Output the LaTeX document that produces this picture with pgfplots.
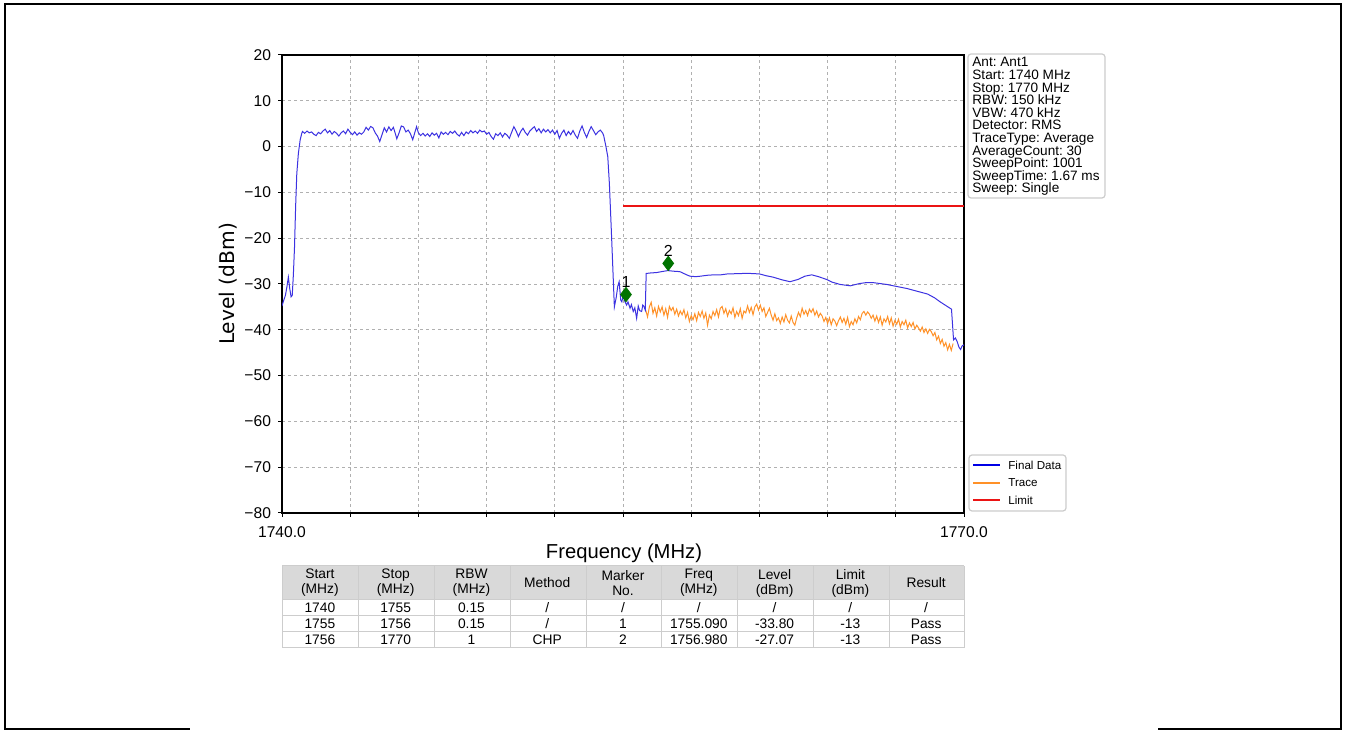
\documentclass[border=0pt]{standalone}
\usepackage{fontspec}
\setmainfont{Liberation Sans}
\newfontfamily\dejavu{DejaVu Sans}
\usepackage{pgfplots}
\pgfplotsset{compat=1.18}
\definecolor{fdblue}{RGB}{60,50,225}
\definecolor{trorange}{RGB}{255,145,40}
\definecolor{limred}{RGB}{235,20,20}
\definecolor{mkgreen}{RGB}{0,115,0}
\definecolor{gridgray}{RGB}{176,176,176}
\definecolor{boxgray}{RGB}{204,204,204}
\definecolor{hdrgray}{RGB}{217,217,217}
\definecolor{cellline}{RGB}{205,205,205}
\newcommand{\tabfont}{\fontsize{6.9pt}{7.5pt}\selectfont}
\newcommand{\tcell}[3]{\node[font=\tabfont, align=center, inner sep=0pt] at ({282+75.78*(#1-0.5)},#2) {#3};}
\frenchspacing
\begin{document}
\frenchspacing
\begin{tikzpicture}
\useasboundingbox (0,0) rectangle (672.5pt,-365.5pt);
\begin{axis}[
  at={(141pt,-256.5pt)}, anchor=south west,
  width=341pt, height=229pt, scale only axis,
  xmin=1740, xmax=1770, ymin=-80, ymax=20,
  xtick={1740,1743,1746,1749,1752,1755,1758,1761,1764,1767,1770},
  xticklabels={1740.0,,,,,,,,,,1770.0},
  ytick={-80,-70,-60,-50,-40,-30,-20,-10,0,10,20},
  yticklabels={−80,−70,−60,−50,−40,−30,−20,−10,0,10,20},
  tick pos=left, tick align=outside, major tick length=2pt,
  tick style={black, line width=0.5pt},
  ticklabel style={font=\fontsize{7.8pt}{8pt}\selectfont},
  xticklabel style={yshift=-1.2pt},
  grid=major,
  major grid style={gridgray, line width=0.45pt, dash pattern=on 1.6pt off 1.4pt},
  axis line style={black, line width=0.7pt},
  clip=true,
]
\addplot[trorange, line width=0.5pt, forget plot] coordinates {
(1756.00,-35.7) (1756.08,-37.2) (1756.16,-35.0) (1756.24,-34.0) (1756.32,-36.4) (1756.40,-35.2) (1756.48,-37.0) (1756.56,-34.9)
(1756.64,-36.1) (1756.72,-35.0) (1756.80,-36.8) (1756.88,-35.4) (1756.96,-37.3) (1757.04,-34.9) (1757.12,-35.8) (1757.20,-35.1)
(1757.28,-36.6) (1757.36,-35.5) (1757.44,-37.0) (1757.52,-35.9) (1757.60,-36.7) (1757.68,-35.6) (1757.76,-37.4) (1757.84,-36.2)
(1757.92,-38.2) (1758.00,-36.9) (1758.08,-37.8) (1758.16,-36.5) (1758.24,-38.0) (1758.32,-36.2) (1758.40,-37.1) (1758.48,-35.9)
(1758.56,-37.5) (1758.64,-36.3) (1758.72,-39.0) (1758.80,-36.8) (1758.88,-37.6) (1758.96,-36.0) (1759.04,-36.9) (1759.12,-35.6)
(1759.20,-37.2) (1759.28,-35.3) (1759.36,-34.9) (1759.44,-36.4) (1759.52,-35.4) (1759.60,-37.0) (1759.68,-35.8) (1759.76,-36.5)
(1759.84,-35.2) (1759.92,-37.3) (1760.00,-36.0) (1760.08,-36.9) (1760.16,-35.4) (1760.24,-37.5) (1760.32,-35.9) (1760.40,-36.3)
(1760.48,-34.8) (1760.56,-36.2) (1760.64,-35.1) (1760.72,-36.7) (1760.80,-35.0) (1760.88,-34.4) (1760.96,-35.7) (1761.04,-34.6)
(1761.12,-36.0) (1761.20,-35.2) (1761.28,-37.1) (1761.36,-36.2) (1761.44,-35.3) (1761.52,-36.8) (1761.60,-37.9) (1761.68,-36.5)
(1761.76,-38.0) (1761.84,-37.4) (1761.92,-38.6) (1762.00,-37.2) (1762.08,-38.3) (1762.16,-36.7) (1762.24,-37.9) (1762.32,-38.5)
(1762.40,-37.0) (1762.48,-38.4) (1762.56,-39.0) (1762.64,-37.4) (1762.72,-36.2) (1762.80,-37.1) (1762.88,-35.3) (1762.96,-36.6)
(1763.04,-35.8) (1763.12,-36.9) (1763.20,-35.5) (1763.28,-36.2) (1763.36,-35.4) (1763.44,-36.8) (1763.52,-35.9) (1763.60,-37.2)
(1763.68,-36.4) (1763.76,-37.0) (1763.84,-38.2) (1763.92,-37.3) (1764.00,-38.6) (1764.08,-37.4) (1764.16,-38.9) (1764.24,-37.6)
(1764.32,-38.1) (1764.40,-39.1) (1764.48,-38.0) (1764.56,-37.2) (1764.64,-38.4) (1764.72,-37.5) (1764.80,-38.8) (1764.88,-37.3)
(1764.96,-39.3) (1765.04,-38.2) (1765.12,-38.9) (1765.20,-37.6) (1765.28,-38.5) (1765.36,-37.1) (1765.44,-37.8) (1765.52,-36.4)
(1765.60,-36.0) (1765.68,-36.8) (1765.76,-36.1) (1765.84,-36.6) (1765.92,-37.5) (1766.00,-36.8) (1766.08,-38.1) (1766.16,-37.0)
(1766.24,-38.4) (1766.32,-37.2) (1766.40,-39.0) (1766.48,-37.6) (1766.56,-38.3) (1766.64,-37.1) (1766.72,-38.7) (1766.80,-37.4)
(1766.88,-39.2) (1766.96,-38.0) (1767.04,-38.8) (1767.12,-37.7) (1767.20,-39.4) (1767.28,-38.2) (1767.36,-38.9) (1767.44,-37.9)
(1767.52,-39.6) (1767.60,-38.5) (1767.68,-39.3) (1767.76,-38.4) (1767.84,-39.8) (1767.92,-39.0) (1768.00,-39.6) (1768.08,-40.3)
(1768.16,-39.4) (1768.24,-40.6) (1768.32,-39.8) (1768.40,-40.8) (1768.48,-39.9) (1768.56,-40.4) (1768.64,-41.3) (1768.72,-40.6)
(1768.80,-42.2) (1768.88,-41.4) (1768.96,-43.0) (1769.04,-42.1) (1769.12,-43.6) (1769.20,-42.8) (1769.28,-44.4) (1769.36,-43.2)
(1769.44,-44.5) (1769.52,-43.0)
};
\addplot[fdblue, line width=0.5pt, forget plot] coordinates {
(1740.00,-34.8) (1740.08,-33.5) (1740.15,-32.5) (1740.22,-30.5) (1740.28,-28.5) (1740.34,-31.0) (1740.40,-32.8) (1740.45,-32.5)
(1740.50,-28.0) (1740.55,-22.0) (1740.60,-13.0) (1740.65,-6.0) (1740.72,-1.5) (1740.80,1.5) (1740.87,2.9)
(1740.9,3.3) (1741.0,2.9) (1741.1,3.4) (1741.2,3.0) (1741.3,3.2) (1741.4,2.7) (1741.5,2.4) (1741.6,3.1) (1741.7,2.8) (1741.8,3.4)
(1741.9,3.8) (1742.0,3.0) (1742.1,3.5) (1742.2,2.7) (1742.3,3.3) (1742.4,2.9) (1742.5,2.3) (1742.6,3.0) (1742.7,3.4) (1742.8,2.8)
(1742.9,3.8) (1743.0,3.1) (1743.1,2.6) (1743.2,3.2) (1743.3,2.5) (1743.4,3.0) (1743.5,2.7) (1743.6,3.2) (1743.7,4.2) (1743.8,3.6)
(1743.9,4.4) (1744.0,4.1) (1744.1,3.0) (1744.2,2.3) (1744.3,1.1) (1744.4,2.6) (1744.5,4.1) (1744.6,3.2) (1744.7,4.3) (1744.8,3.5)
(1744.9,4.2) (1745.0,2.6) (1745.05,1.7) (1745.15,3.0) (1745.25,4.5) (1745.35,4.3) (1745.45,3.2) (1745.55,3.6) (1745.65,2.8)
(1745.75,1.5) (1745.85,3.2) (1745.92,4.35) (1746.0,3.0) (1746.1,2.4) (1746.2,2.9) (1746.3,2.3) (1746.4,2.8) (1746.5,2.2)
(1746.6,3.0) (1746.7,2.5) (1746.8,2.9) (1746.9,1.9) (1747.0,3.2) (1747.1,2.7) (1747.2,3.1) (1747.3,2.6) (1747.4,3.3) (1747.5,2.9)
(1747.6,3.4) (1747.7,2.7) (1747.8,2.3) (1747.9,3.1) (1748.0,2.4) (1748.1,3.2) (1748.2,2.8) (1748.3,3.5) (1748.4,3.0) (1748.5,3.4)
(1748.6,2.9) (1748.7,3.6) (1748.8,3.2) (1748.9,3.4) (1749.0,2.7) (1749.1,3.1) (1749.2,2.2) (1749.3,1.6) (1749.4,2.8) (1749.5,2.4)
(1749.6,3.0) (1749.7,2.1) (1749.8,2.9) (1749.9,2.5) (1750.0,1.8) (1750.1,3.1) (1750.2,4.35) (1750.3,3.4) (1750.4,2.2) (1750.5,3.3)
(1750.6,4.0) (1750.7,3.1) (1750.8,2.5) (1750.9,3.4) (1751.0,3.9) (1751.1,4.35) (1751.2,3.3) (1751.3,3.9) (1751.4,3.0) (1751.5,3.8)
(1751.6,3.2) (1751.7,3.7) (1751.8,3.0) (1751.9,3.6) (1752.0,2.7) (1752.1,3.5) (1752.2,1.8) (1752.3,2.9) (1752.4,3.6) (1752.5,2.4)
(1752.6,3.3) (1752.7,2.6) (1752.8,3.5) (1752.9,2.5) (1753.0,1.8) (1753.1,3.4) (1753.2,4.5) (1753.3,3.1) (1753.4,2.0) (1753.5,3.3)
(1753.6,4.35) (1753.7,3.5) (1753.8,2.6) (1753.9,3.2) (1754.0,3.6) (1754.1,3.0) (1754.15,2.4) (1754.25,0.0) (1754.33,-2.2)
(1754.40,-8.0) (1754.48,-17.5) (1754.55,-26.2) (1754.62,-35.0) (1754.70,-33.0) (1754.77,-30.5) (1754.83,-29.5) (1754.90,-33.5)
(1754.95,-33.9) (1755.01,-32.4) (1755.08,-33.8) (1755.16,-34.6) (1755.22,-33.9) (1755.31,-35.3) (1755.37,-34.5) (1755.45,-36.0)
(1755.52,-35.2) (1755.60,-37.5) (1755.67,-34.8) (1755.73,-35.8) (1755.82,-36.0) (1755.87,-34.6) (1755.92,-34.9) (1755.98,-35.7)
(1756.02,-27.7) (1756.2,-27.6) (1756.48,-27.5) (1756.7,-27.3) (1756.98,-27.07) (1757.2,-27.2) (1757.5,-27.3) (1757.8,-28.0)
(1757.95,-28.3) (1758.2,-28.4) (1758.4,-28.3) (1758.7,-28.1) (1759.0,-28.0) (1759.3,-28.0) (1759.6,-27.8) (1760.0,-27.75)
(1760.3,-27.7) (1760.6,-27.7) (1761.0,-27.8) (1761.3,-28.2) (1761.6,-28.5) (1762.0,-29.1) (1762.35,-29.5) (1762.7,-29.0)
(1763.0,-28.3) (1763.3,-28.0) (1763.6,-28.4) (1763.95,-29.0) (1764.2,-29.6) (1764.55,-30.1) (1765.0,-30.4) (1765.4,-29.9)
(1765.7,-29.7) (1766.0,-29.7) (1766.3,-29.9) (1766.6,-30.1) (1766.9,-30.4) (1767.2,-30.7) (1767.5,-31.0) (1767.8,-31.4)
(1768.1,-31.8) (1768.4,-32.2) (1768.7,-33.0) (1768.95,-33.9) (1769.2,-34.7) (1769.45,-35.5) (1769.54,-42.2) (1769.62,-41.8)
(1769.70,-42.6) (1769.78,-43.8) (1769.85,-44.3) (1769.92,-43.5) (1770.0,-43.3)
};
\addplot[limred, line width=0.7pt, forget plot] coordinates {(1755,-13) (1770,-13)};
\addplot[only marks, mark=diamond*, mark size=3.6pt, draw=mkgreen, fill=mkgreen, forget plot,
  nodes near coords, point meta=explicit symbolic,
  every node near coord/.style={font=\fontsize{8pt}{8pt}\selectfont, text=black, anchor=south, inner sep=0pt, yshift=3.2pt}]
  table[meta=lab] {
x y lab
1755.13 -32.3 1
1756.99 -25.5 2
};
\end{axis}
\begin{scope}[x=0.5pt,y=-0.5pt]
% outer frame
\draw[black, line width=1pt] (5,730) -- (5,4.5) -- (1340.5,4.5) -- (1340.5,730);
\draw[black, line width=1pt] (5,729.5) -- (190,729.5);
\draw[black, line width=1pt] (1158,729.5) -- (1340.5,729.5);
% axis labels
\node[rotate=90, font=\dejavu\fontsize{10.1pt}{12pt}\selectfont] at (228,284) {Level (dBm)};
\node[font=\fontsize{10.1pt}{12pt}\selectfont] at (624,553) {Frequency (MHz)};
% info box
\draw[boxgray, line width=0.6pt, rounded corners=1.5pt, fill=white] (968,54) rectangle (1105,198);
\foreach \t [count=\i from 0] in {Ant: Ant1, Start: 1740 MHz, Stop: 1770 MHz, RBW: 150 kHz, VBW: 470 kHz, Detector: RMS, TraceType: Average, AverageCount: 30, SweepPoint: 1001, SweepTime: 1.67 ms, Sweep: Single}
  \node[anchor=base west, inner sep=0pt, font=\frenchspacing\fontsize{6.8pt}{7pt}\selectfont] at (972,{67+12.6*\i}) {\t};
% legend
\draw[boxgray, line width=0.6pt, rounded corners=1.5pt, fill=white] (969,455) rectangle (1066,511);
\draw[blue!90!black, line width=0.8pt] (973,465) -- (1000,465);
\draw[trorange, line width=0.8pt] (973,483) -- (1000,483);
\draw[limred, line width=0.8pt] (973,500) -- (1000,500);
\node[anchor=west, inner sep=0pt, font=\fontsize{5.8pt}{6pt}\selectfont] at (1008,465) {Final Data};
\node[anchor=west, inner sep=0pt, font=\fontsize{5.8pt}{6pt}\selectfont] at (1008,483) {Trace};
\node[anchor=west, inner sep=0pt, font=\fontsize{5.8pt}{6pt}\selectfont] at (1008,500) {Limit};
% table
\fill[hdrgray] (282,566) rectangle (964,600);
\foreach \xx in {282,358,434,510,586,661,737,813,889,964} \draw[cellline, line width=0.5pt] (\xx,566) -- (\xx,648);
\foreach \yy in {566,600,616,632,648} \draw[cellline, line width=0.5pt] (282,\yy) -- (964,\yy);
\tcell{1}{583}{Start\\(MHz)} \tcell{2}{583}{Stop\\(MHz)} \tcell{3}{583}{RBW\\(MHz)}
\tcell{4}{583}{Method} \tcell{5}{583}{Marker\\No.} \tcell{6}{583}{Freq\\(MHz)}
\tcell{7}{583}{Level\\(dBm)} \tcell{8}{583}{Limit\\(dBm)} \tcell{9}{583}{Result}
\tcell{1}{608}{1740} \tcell{2}{608}{1755} \tcell{3}{608}{0.15} \tcell{4}{608}{/} \tcell{5}{608}{/}
\tcell{6}{608}{/} \tcell{7}{608}{/} \tcell{8}{608}{/} \tcell{9}{608}{/}
\tcell{1}{624}{1755} \tcell{2}{624}{1756} \tcell{3}{624}{0.15} \tcell{4}{624}{/} \tcell{5}{624}{1}
\tcell{6}{624}{1755.090} \tcell{7}{624}{-33.80} \tcell{8}{624}{-13} \tcell{9}{624}{Pass}
\tcell{1}{640}{1756} \tcell{2}{640}{1770} \tcell{3}{640}{1} \tcell{4}{640}{CHP} \tcell{5}{640}{2}
\tcell{6}{640}{1756.980} \tcell{7}{640}{-27.07} \tcell{8}{640}{-13} \tcell{9}{640}{Pass}
\end{scope}
\end{tikzpicture}
\end{document}
